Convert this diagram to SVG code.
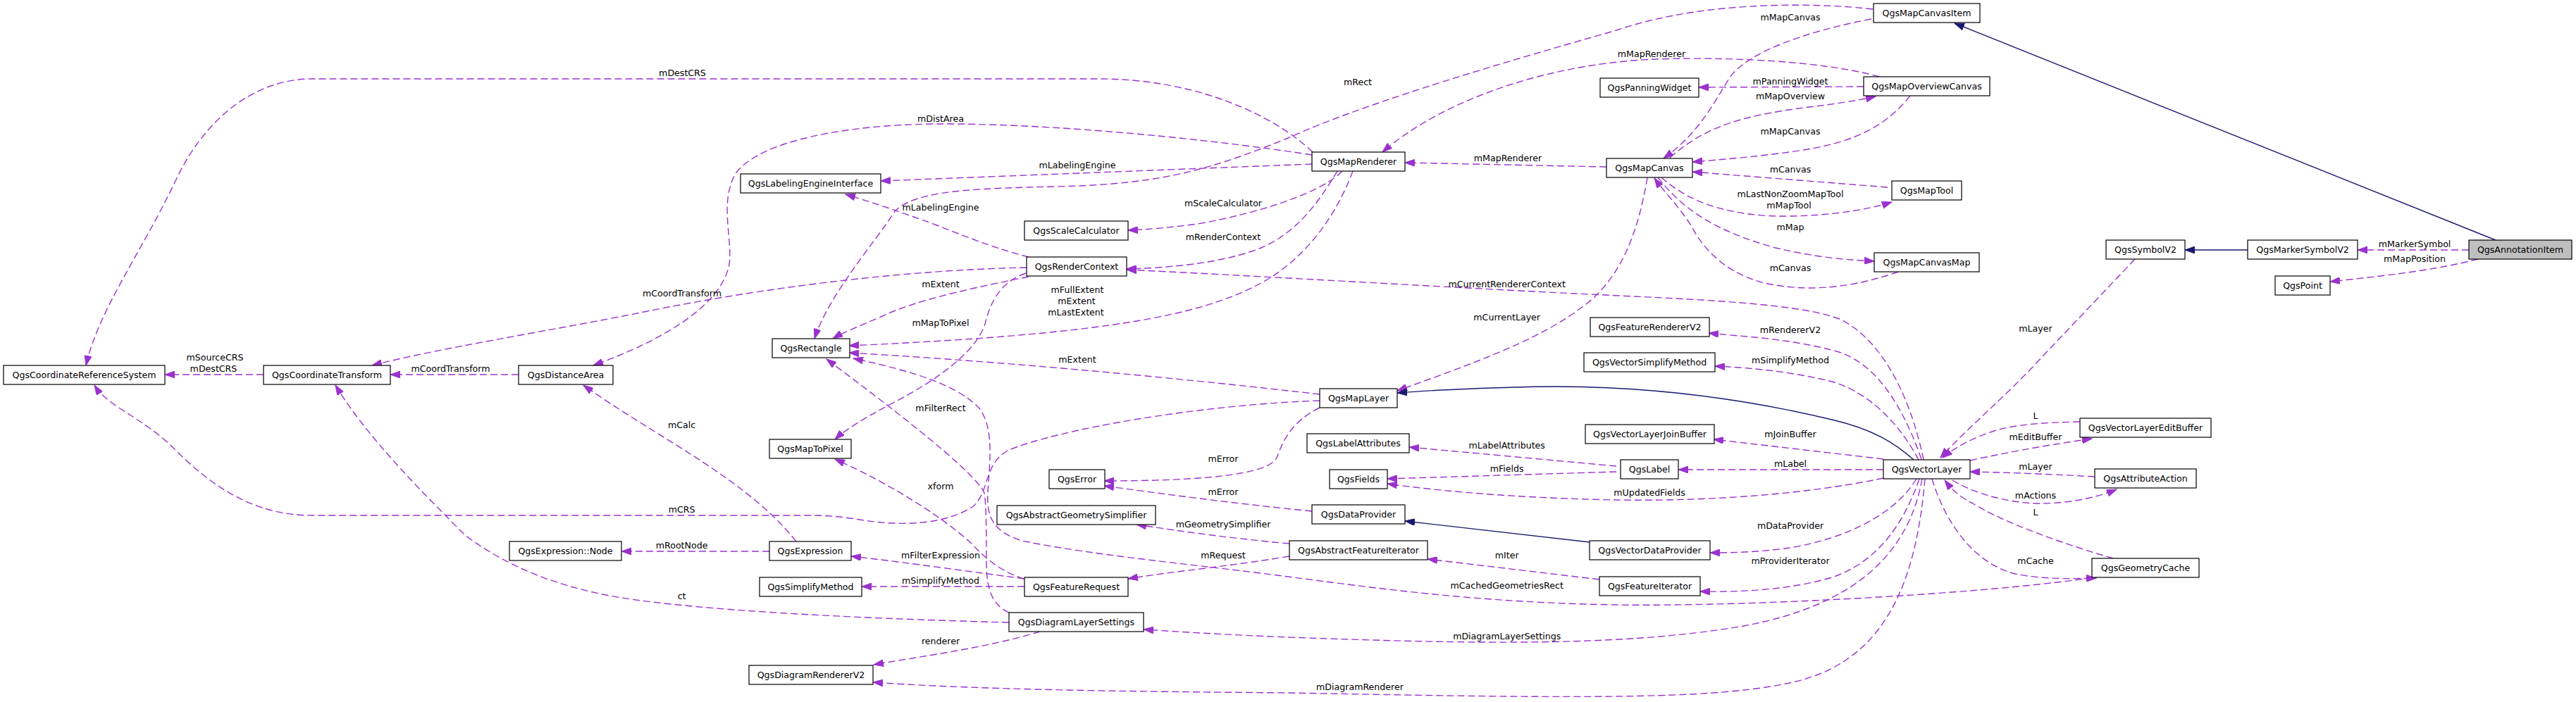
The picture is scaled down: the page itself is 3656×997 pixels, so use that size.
<svg xmlns="http://www.w3.org/2000/svg" width="3656" height="997" viewBox="0 0 3656 997">
<defs>
<marker id="ap" viewBox="0 0 15 10" markerWidth="15" markerHeight="10" refX="14" refY="5" orient="auto" markerUnits="userSpaceOnUse"><path d="M0,0 L14,5 L0,10 z" fill="#9a32cd" stroke="#9a32cd" stroke-width="1"/></marker>
<marker id="an" viewBox="0 0 15 10" markerWidth="15" markerHeight="10" refX="14" refY="5" orient="auto" markerUnits="userSpaceOnUse"><path d="M0,0 L14,5 L0,10 z" fill="#191970" stroke="#191970" stroke-width="1"/></marker>
<style>
.n rect{fill:#fff;stroke:#000;stroke-width:1.2}
.n rect.g{fill:#bfbfbf}
text{font-family:'DejaVu Sans','Liberation Sans',sans-serif;font-size:12.6px;fill:#000}
.n text{text-anchor:middle}
.lb text{text-anchor:middle}
.e{fill:none;stroke:#9a32cd;stroke-width:1.4;stroke-dasharray:10,5;marker-end:url(#ap)}
.i{fill:none;stroke:#191970;stroke-width:1.4;marker-end:url(#an)}
</style>
</defs>
<rect width="3656" height="997" fill="#fff"/>
<g id="connectors">
<path class="e" d="M1863,216 C1810,165 1700,112 1560,112 L443,112 C360,112 290,170 250,255 C200,360 140,440 122,519"/>
<path class="e" d="M2658,13 C2580,4 2420,0 2294,43 C2200,70 1950,140 1828,196 C1720,240 1650,262 1497,265 C1380,268 1300,270 1270,300 C1245,340 1175,420 1156,481"/>
<path class="e" d="M1862,220 C1700,195 1480,175 1330,176 C1200,177 1080,200 1045,245 C1020,285 1040,340 1035,375 C1025,430 950,480 842,519"/>
<path class="e" d="M1862,233 L1250,257"/>
<path class="e" d="M1905,243 C1880,270 1800,300 1700,318 C1660,323 1630,326 1601,327"/>
<path class="e" d="M1898,243 C1870,290 1840,330 1790,352 C1730,375 1660,380 1599,382"/>
<path class="e" d="M1920,243 C1895,310 1850,370 1788,403 C1700,450 1560,475 1205,491"/>
<path class="e" d="M1460,365 C1420,355 1380,340 1330,320 C1270,298 1230,285 1200,276"/>
<path class="e" d="M1457,380 C1300,383 1100,405 914,443 C780,470 620,495 528,519"/>
<path class="e" d="M1460,393 C1400,405 1300,425 1250,450 C1215,465 1195,473 1182,481"/>
<path class="e" d="M1456,388 C1420,400 1405,430 1398,460 C1385,500 1330,540 1264,574 C1230,592 1200,610 1185,624"/>
<path class="e" d="M2730,653 C2715,580 2680,490 2615,455 C2560,430 2400,425 2236,417 C2000,405 1750,390 1599,383"/>
<path class="e" d="M2338,252 C2325,330 2300,400 2240,440 C2180,485 2080,520 1983,555"/>
<path class="e" d="M2280,237 L1994,231"/>
<path class="e" d="M2656,27 C2560,45 2480,75 2455,110 C2430,150 2410,190 2361,225"/>
<path class="e" d="M2667,109 C2600,90 2480,80 2350,84 C2200,90 2050,140 1962,216"/>
<path class="e" d="M2645,123 L2411,124"/>
<path class="e" d="M2370,224 C2420,180 2470,165 2560,153 C2610,147 2640,142 2662,137"/>
<path class="e" d="M2711,136 C2680,175 2640,200 2560,213 C2500,222 2450,226 2402,230"/>
<path class="e" d="M2679,266 L2402,244"/>
<path class="e" d="M2358,252 C2400,290 2460,308 2540,307 C2600,306 2650,298 2685,287"/>
<path class="e" d="M2353,252 C2390,300 2440,330 2520,352 C2580,366 2620,369 2660,371"/>
<path class="e" d="M2694,386 C2640,405 2580,415 2520,405 C2460,396 2420,360 2400,320 C2380,290 2360,270 2348,253"/>
<path class="e" d="M2727,652 C2705,590 2670,520 2610,500 C2540,480 2470,478 2425,473"/>
<path class="e" d="M2723,653 C2700,610 2660,560 2600,542 C2540,527 2480,522 2434,520"/>
<path class="i" d="M2716,653 C2690,630 2660,610 2600,596 C2450,560 2300,545 2150,550 C2080,552 2020,555 1983,558"/>
<path class="e" d="M2673,652 L2432,624"/>
<path class="e" d="M2673,667 L2382,667"/>
<path class="e" d="M2294,662 L2000,635"/>
<path class="e" d="M2294,670 L1969,680"/>
<path class="e" d="M2673,679 C2550,705 2400,712 2294,710 C2180,708 2060,700 1969,687"/>
<path class="i" d="M2256,770 L1994,740"/>
<path class="e" d="M2720,680 C2690,730 2620,765 2540,778 C2500,784 2460,785 2427,785"/>
<path class="e" d="M2270,823 L2026,794"/>
<path class="e" d="M2724,680 C2700,750 2660,800 2600,820 C2540,838 2470,841 2413,840"/>
<path class="e" d="M2728,680 C2710,780 2640,860 2469,890 C2300,918 2100,915 1828,905 C1730,901 1670,897 1623,894"/>
<path class="e" d="M2732,680 C2720,820 2680,930 2560,965 C2450,995 2250,992 1828,984 C1600,982 1400,980 1239,969"/>
<path class="e" d="M1873,560 C1700,540 1450,515 1205,501"/>
<path class="e" d="M1873,569 C1700,575 1500,610 1430,640 C1395,660 1405,700 1380,720 C1340,745 1280,748 1220,738 C1190,733 1170,732 1150,732 L443,732 C360,732 300,690 250,640 C200,590 155,580 134,547"/>
<path class="e" d="M1873,579 C1830,600 1820,630 1812,650 C1800,675 1700,683 1567,683"/>
<path class="e" d="M1862,726 C1750,715 1640,700 1567,690"/>
<path class="e" d="M1830,772 C1750,765 1680,755 1613,745"/>
<path class="e" d="M1830,790 C1740,805 1660,812 1601,822"/>
<path class="e" d="M1454,822 C1350,808 1270,797 1208,790"/>
<path class="e" d="M1454,833 L1223,833"/>
<path class="e" d="M1092,783 L882,783"/>
<path class="e" d="M1130,769 C1060,680 930,620 828,547"/>
<path class="e" d="M1432,884 C1200,878 960,865 860,845 C760,825 700,790 660,760 C600,700 520,620 476,547"/>
<path class="e" d="M1476,897 C1400,920 1320,930 1240,944"/>
<path class="e" d="M1432,870 C1410,860 1400,840 1400,800 C1400,760 1400,720 1397,700 C1385,672 1280,590 1173,510"/>
<path class="e" d="M1453,822 C1420,812 1395,790 1380,773 C1345,740 1270,690 1185,652"/>
<path class="e" d="M2970,820 C2850,840 2500,862 2294,859 C2100,856 1950,835 1828,819 C1700,802 1560,790 1450,768 C1410,755 1400,735 1402,700 C1404,660 1412,610 1390,580 C1360,548 1300,528 1211,509"/>
<path class="e" d="M2742,680 C2760,740 2800,800 2860,815 C2900,823 2940,822 2975,821"/>
<path class="e" d="M2999,793 C2920,770 2840,740 2800,715 C2780,705 2770,695 2760,682"/>
<path class="e" d="M2771,682 C2800,700 2850,715 2895,715 C2940,715 2980,705 3004,695"/>
<path class="e" d="M2973,677 C2900,673 2850,671 2796,670"/>
<path class="e" d="M2796,654 C2860,640 2920,630 2969,623"/>
<path class="e" d="M2952,599 C2900,600 2860,603 2830,612 C2800,622 2775,635 2757,650"/>
<path class="e" d="M3030,368 L2900,505 C2850,560 2790,610 2754,650"/>
<path class="i" d="M3542,341 L2774,33"/>
<path class="i" d="M3190,355 L3101,355"/>
<path class="e" d="M3504,355 L3346,355"/>
<path class="e" d="M3517,368 C3450,385 3380,392 3307,400"/>
<path class="e" d="M374,532 L234,532"/>
<path class="e" d="M736,532 L554,532"/>
</g>
<g id="edge-labels" class="lb">
<text x="305" y="512">mSourceCRS</text>
<text x="303" y="528">mDestCRS</text>
<text x="639.5" y="528">mCoordTransform</text>
<text x="968.5" y="108">mDestCRS</text>
<text x="968" y="421">mCoordTransform</text>
<text x="967.6" y="608">mCalc</text>
<text x="967.6" y="728">mCRS</text>
<text x="967.6" y="779">mRootNode</text>
<text x="967.6" y="851">ct</text>
<text x="1335" y="173">mDistArea</text>
<text x="1529" y="239">mLabelingEngine</text>
<text x="1335" y="299">mLabelingEngine</text>
<text x="1736" y="293">mScaleCalculator</text>
<text x="1736" y="341">mRenderContext</text>
<text x="1335" y="408">mExtent</text>
<text x="1529" y="416">mFullExtent</text>
<text x="1528" y="432">mExtent</text>
<text x="1527" y="448">mLastExtent</text>
<text x="1335" y="463">mMapToPixel</text>
<text x="1529" y="515">mExtent</text>
<text x="1335" y="584">mFilterRect</text>
<text x="1736" y="656">mError</text>
<text x="1335" y="695">xform</text>
<text x="1736" y="703">mError</text>
<text x="1736" y="749">mGeometrySimplifier</text>
<text x="1335" y="793">mFilterExpression</text>
<text x="1736" y="793">mRequest</text>
<text x="1335" y="829">mSimplifyMethod</text>
<text x="1335" y="915">renderer</text>
<text x="1927" y="121">mRect</text>
<text x="2541" y="29">mMapCanvas</text>
<text x="2344" y="81">mMapRenderer</text>
<text x="2541" y="120">mPanningWidget</text>
<text x="2541" y="141">mMapOverview</text>
<text x="2541" y="191">mMapCanvas</text>
<text x="2140" y="229">mMapRenderer</text>
<text x="2541" y="245">mCanvas</text>
<text x="2541" y="280">mLastNonZoomMapTool</text>
<text x="2539" y="296">mMapTool</text>
<text x="2541" y="327">mMap</text>
<text x="2541" y="385">mCanvas</text>
<text x="2138.7" y="408">mCurrentRendererContext</text>
<text x="2138.7" y="455">mCurrentLayer</text>
<text x="2541" y="473">mRendererV2</text>
<text x="2541" y="516">mSimplifyMethod</text>
<text x="2541" y="621">mJoinBuffer</text>
<text x="2138.7" y="637">mLabelAttributes</text>
<text x="2541" y="663">mLabel</text>
<text x="2138.7" y="670">mFields</text>
<text x="2341" y="704">mUpdatedFields</text>
<text x="2541" y="751">mDataProvider</text>
<text x="2138.7" y="793">mIter</text>
<text x="2541" y="801">mProviderIterator</text>
<text x="2138.7" y="836">mCachedGeometriesRect</text>
<text x="2138.7" y="908">mDiagramLayerSettings</text>
<text x="1930" y="980">mDiagramRenderer</text>
<text x="3427" y="351">mMarkerSymbol</text>
<text x="3427" y="372">mMapPosition</text>
<text x="2889" y="471">mLayer</text>
<text x="2889" y="595">L</text>
<text x="2889" y="625">mEditBuffer</text>
<text x="2889" y="667">mLayer</text>
<text x="2889" y="708">mActions</text>
<text x="2889" y="732">L</text>
<text x="2889" y="801">mCache</text>
</g>
<g id="node-crs" class="n"><rect x="5" y="519" width="229" height="27"/><text x="119.5" y="536.5">QgsCoordinateReferenceSystem</text></g>
<g id="node-ct" class="n"><rect x="374" y="519" width="180" height="27"/><text x="464" y="536.5">QgsCoordinateTransform</text></g>
<g id="node-da" class="n"><rect x="736" y="519" width="134" height="27"/><text x="803" y="536.5">QgsDistanceArea</text></g>
<g id="node-exprnode" class="n"><rect x="723" y="769" width="159" height="27"/><text x="802.5" y="786.5">QgsExpression::Node</text></g>
<g id="node-rect" class="n"><rect x="1096" y="481" width="110" height="27"/><text x="1151" y="498.5">QgsRectangle</text></g>
<g id="node-lei" class="n"><rect x="1051" y="247" width="199" height="27"/><text x="1150.5" y="264.5">QgsLabelingEngineInterface</text></g>
<g id="node-scalecalc" class="n"><rect x="1454" y="314" width="147" height="27"/><text x="1527.5" y="331.5">QgsScaleCalculator</text></g>
<g id="node-renderctx" class="n"><rect x="1457" y="365" width="142" height="27"/><text x="1528" y="382.5">QgsRenderContext</text></g>
<g id="node-m2p" class="n"><rect x="1092" y="624" width="116" height="27"/><text x="1150" y="641.5">QgsMapToPixel</text></g>
<g id="node-error" class="n"><rect x="1489" y="667" width="79" height="27"/><text x="1528.5" y="684.5">QgsError</text></g>
<g id="node-ags" class="n"><rect x="1415" y="718" width="225" height="27"/><text x="1527.5" y="735.5">QgsAbstractGeometrySimplifier</text></g>
<g id="node-expr" class="n"><rect x="1092" y="769" width="116" height="27"/><text x="1150" y="786.5">QgsExpression</text></g>
<g id="node-simplify" class="n"><rect x="1078" y="820" width="145" height="27"/><text x="1150.5" y="837.5">QgsSimplifyMethod</text></g>
<g id="node-freq" class="n"><rect x="1454" y="820" width="147" height="27"/><text x="1527.5" y="837.5">QgsFeatureRequest</text></g>
<g id="node-dls" class="n"><rect x="1432" y="870" width="191" height="27"/><text x="1527.5" y="887.5">QgsDiagramLayerSettings</text></g>
<g id="node-drv2" class="n"><rect x="1063" y="945" width="176" height="27"/><text x="1151" y="962.5">QgsDiagramRendererV2</text></g>
<g id="node-mci" class="n"><rect x="2659" y="5" width="151" height="27"/><text x="2734.5" y="22.5">QgsMapCanvasItem</text></g>
<g id="node-pan" class="n"><rect x="2271" y="111" width="140" height="27"/><text x="2341" y="128.5">QgsPanningWidget</text></g>
<g id="node-ovc" class="n"><rect x="2645" y="109" width="179" height="27"/><text x="2734.5" y="126.5">QgsMapOverviewCanvas</text></g>
<g id="node-mr" class="n"><rect x="1862" y="216" width="132" height="27"/><text x="1928" y="233.5">QgsMapRenderer</text></g>
<g id="node-mc" class="n"><rect x="2280" y="225" width="122" height="27"/><text x="2341" y="242.5">QgsMapCanvas</text></g>
<g id="node-tool" class="n"><rect x="2685" y="257" width="99" height="27"/><text x="2734.5" y="274.5">QgsMapTool</text></g>
<g id="node-cmap" class="n"><rect x="2660" y="359" width="149" height="27"/><text x="2734.5" y="376.5">QgsMapCanvasMap</text></g>
<g id="node-frv2" class="n"><rect x="2257" y="451" width="169" height="27"/><text x="2341.5" y="468.5">QgsFeatureRendererV2</text></g>
<g id="node-sym" class="n"><rect x="2989" y="341" width="112" height="27"/><text x="3045" y="358.5">QgsSymbolV2</text></g>
<g id="node-msym" class="n"><rect x="3190" y="341" width="156" height="27"/><text x="3268" y="358.5">QgsMarkerSymbolV2</text></g>
<g id="node-ann" class="n"><rect class="g" x="3504" y="341" width="146" height="27"/><text x="3577" y="358.5">QgsAnnotationItem</text></g>
<g id="node-pt" class="n"><rect x="3229" y="392" width="78" height="27"/><text x="3268" y="409.5">QgsPoint</text></g>
<g id="node-vsm" class="n"><rect x="2248" y="501" width="186" height="27"/><text x="2341" y="518.5">QgsVectorSimplifyMethod</text></g>
<g id="node-ml" class="n"><rect x="1873" y="552" width="110" height="27"/><text x="1928" y="569.5">QgsMapLayer</text></g>
<g id="node-jb" class="n"><rect x="2250" y="603" width="183" height="27"/><text x="2341.5" y="620.5">QgsVectorLayerJoinBuffer</text></g>
<g id="node-la" class="n"><rect x="1855" y="616" width="145" height="27"/><text x="1927.5" y="633.5">QgsLabelAttributes</text></g>
<g id="node-lbl" class="n"><rect x="2300" y="653" width="82" height="27"/><text x="2341" y="670.5">QgsLabel</text></g>
<g id="node-flds" class="n"><rect x="1887" y="667" width="82" height="27"/><text x="1928" y="684.5">QgsFields</text></g>
<g id="node-vl" class="n"><rect x="2673" y="653" width="123" height="27"/><text x="2734.5" y="670.5">QgsVectorLayer</text></g>
<g id="node-dp" class="n"><rect x="1862" y="717" width="132" height="27"/><text x="1928" y="734.5">QgsDataProvider</text></g>
<g id="node-afi" class="n"><rect x="1830" y="768" width="196" height="27"/><text x="1928" y="785.5">QgsAbstractFeatureIterator</text></g>
<g id="node-vdp" class="n"><rect x="2256" y="768" width="171" height="27"/><text x="2341.5" y="785.5">QgsVectorDataProvider</text></g>
<g id="node-fi" class="n"><rect x="2270" y="819" width="143" height="27"/><text x="2341.5" y="836.5">QgsFeatureIterator</text></g>
<g id="node-eb" class="n"><rect x="2952" y="594" width="186" height="27"/><text x="3045" y="611.5">QgsVectorLayerEditBuffer</text></g>
<g id="node-aa" class="n"><rect x="2973" y="666" width="144" height="27"/><text x="3045" y="683.5">QgsAttributeAction</text></g>
<g id="node-gc" class="n"><rect x="2969" y="793" width="152" height="27"/><text x="3045" y="810.5">QgsGeometryCache</text></g>
</svg>
